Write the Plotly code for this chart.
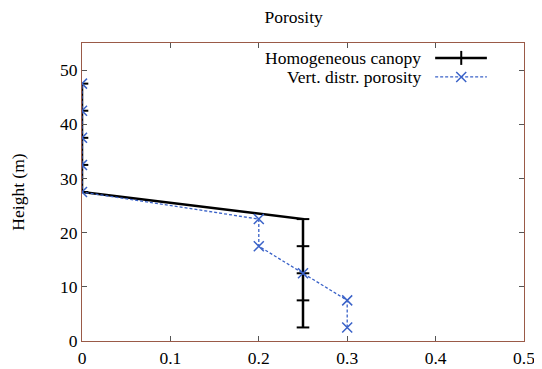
import plotly.graph_objects as go

height = [2.5, 7.5, 12.5, 17.5, 22.5, 27.5, 32.5, 37.5, 42.5, 47.5]
homogeneous = [0.25, 0.25, 0.25, 0.25, 0.25, 0, 0, 0, 0, 0]
vert_distr = [0.3, 0.3, 0.25, 0.2, 0.2, 0, 0, 0, 0, 0]
names = ["Homogeneous canopy", "Vert. distr. porosity"]

black = "#000000"
blue = "#3a62c8"
font = "Liberation Serif, Times New Roman, serif"
fsize = 17.5

fig = go.Figure()
fig.add_trace(go.Scatter(
    x=homogeneous, y=height, mode="lines+markers", name=names[0],
    line=dict(color=black, width=2.5),
    marker=dict(symbol="line-ew", size=9, line=dict(color=black, width=2)),
    showlegend=False,
))
fig.add_trace(go.Scatter(
    x=vert_distr, y=height, mode="lines+markers", name=names[1],
    line=dict(color=blue, width=1.3, dash="3px,2px"),
    marker=dict(symbol="x-thin", size=10, line=dict(color=blue, width=1.5)),
    showlegend=False,
))

# legend drawn by hand: text right-aligned, sample to its right (gnuplot style)
rows = [0.950, 0.886]
styles = [dict(color=black, width=2.5), dict(color=blue, width=1.3, dash="3px,2px")]
for name, yy, st in zip(names, rows, styles):
    fig.add_annotation(x=0.771, y=yy, xref="paper", yref="paper", text=name,
                       showarrow=False, xanchor="right", yanchor="middle",
                       font=dict(family=font, size=fsize, color="black"))
    fig.add_shape(type="line", xref="paper", yref="paper", x0=0.799, x1=0.916,
                  y0=yy, y1=yy, line=st)
fig.add_trace(go.Scatter(x=[0.858], y=[rows[0]], xaxis="x2", yaxis="y2", mode="markers",
                         marker=dict(symbol="line-ns", size=10, line=dict(color=black, width=2)),
                         showlegend=False, hoverinfo="skip"))
fig.add_trace(go.Scatter(x=[0.858], y=[rows[1]], xaxis="x2", yaxis="y2", mode="markers",
                         marker=dict(symbol="x-thin", size=10, line=dict(color=blue, width=1.5)),
                         showlegend=False, hoverinfo="skip"))

axis_style = dict(
    showgrid=False, zeroline=False, showline=True, mirror="ticks",
    linecolor="#9a5a48", linewidth=1.2, ticks="inside", ticklen=5,
    tickcolor="#555555", tickfont=dict(family=font, size=fsize, color="black"),
    automargin=False,
)
# page body has an 8px margin, so the figure is 8px smaller than the window
fig.update_layout(
    width=534, height=361,
    margin=dict(l=74, r=18, t=35, b=28),
    paper_bgcolor="white", plot_bgcolor="white",
    title=dict(text="Porosity", x=0.535, xanchor="center", y=0.975, yanchor="middle",
               font=dict(family=font, size=fsize, color="black")),
    xaxis=dict(range=[0, 0.5], dtick=0.1, tickformat="~g", ticklabelstandoff=1, **axis_style),
    yaxis=dict(range=[0, 55], dtick=10,
               title=dict(text="Height (m)", standoff=31, font=dict(family=font, size=fsize, color="black")),
               **axis_style),
    xaxis2=dict(range=[0, 1], overlaying="x", visible=False, domain=[0, 1]),
    yaxis2=dict(range=[0, 1], overlaying="y", visible=False),
)

fig.write_html("out.html")
